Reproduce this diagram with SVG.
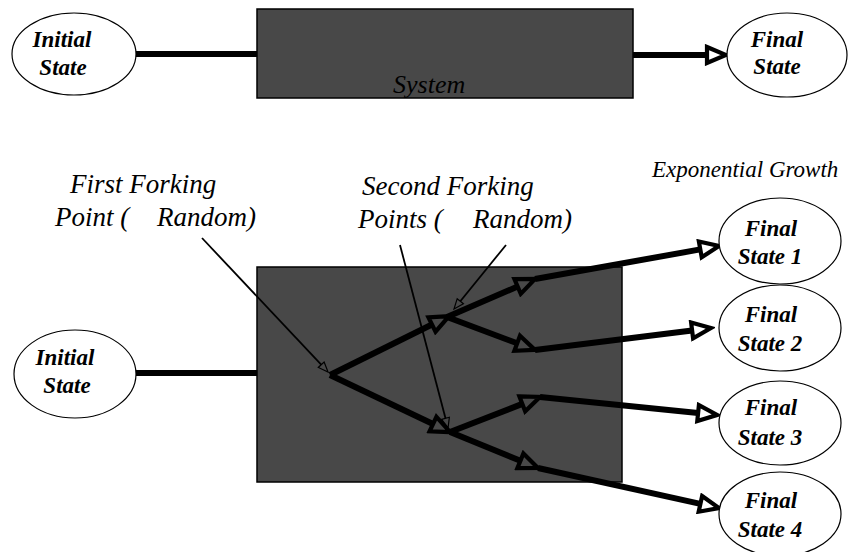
<svg xmlns="http://www.w3.org/2000/svg" width="848" height="552" viewBox="0 0 848 552">
  <defs>
    <!-- large open arrowhead, attached at its base -->
    <marker id="open-big" markerUnits="userSpaceOnUse" viewBox="0 0 26 22" markerWidth="26" markerHeight="22" refX="3" refY="11" orient="auto">
      <path d="M3,3 L22,11 L3,19 Z" fill="none" stroke="#000000" stroke-width="4.2" stroke-linejoin="miter"/>
    </marker>
    <!-- small open arrowhead for the callout lines -->
    <marker id="open-small" markerUnits="userSpaceOnUse" viewBox="0 0 14 12" markerWidth="14" markerHeight="12" refX="2" refY="6" orient="auto">
      <path d="M2,2 L12,6 L2,10 Z" fill="none" stroke="#000000" stroke-width="1.2"/>
    </marker>
  </defs>

  <rect x="0" y="0" width="848" height="552" fill="#ffffff"/>

  <!-- Process boxes -->
  <g fill="#484848" stroke="#000000" stroke-width="1.5">
    <rect id="system-box" x="257" y="9" width="376" height="89"/>
    <rect id="forking-box" x="257" y="267" width="365" height="215"/>
  </g>

  <!-- Connectors -->
  <g id="connectors" fill="none" stroke="#000000">
    <g stroke-width="6">
      <line x1="136" y1="54" x2="257" y2="54"/>
      <line x1="633" y1="55" x2="707" y2="55" marker-end="url(#open-big)"/>
      <line x1="136" y1="373" x2="257" y2="373"/>
      <line x1="330" y1="375" x2="432" y2="324.5" marker-end="url(#open-big)"/>
      <line x1="330" y1="375" x2="433" y2="424" marker-end="url(#open-big)"/>
      <line x1="447" y1="317" x2="517.6" y2="286.5" marker-end="url(#open-big)"/>
      <line x1="447" y1="317" x2="517.2" y2="343.3" marker-end="url(#open-big)"/>
      <line x1="450" y1="432" x2="522.3" y2="403.9" marker-end="url(#open-big)"/>
      <line x1="450" y1="432" x2="520.4" y2="460.8" marker-end="url(#open-big)"/>
      <line x1="535" y1="279" x2="700.3" y2="249.4" marker-end="url(#open-big)"/>
      <line x1="535" y1="350" x2="692.1" y2="330.4" marker-end="url(#open-big)"/>
      <line x1="540" y1="397" x2="698.1" y2="413.1" marker-end="url(#open-big)"/>
      <line x1="538" y1="468" x2="700.4" y2="503.9" marker-end="url(#open-big)"/>
    </g>
    <g stroke-width="1.8">
      <line x1="202" y1="238" x2="321.2" y2="364.7" marker-end="url(#open-small)"/>
      <line x1="400" y1="245" x2="445.5" y2="418.3" marker-end="url(#open-small)"/>
      <line x1="506" y1="245" x2="460.3" y2="301.2" marker-end="url(#open-small)"/>
    </g>
  </g>

  <!-- States -->
  <g id="initial-state-top">
    <ellipse cx="74" cy="54" rx="62" ry="41" fill="#ffffff" stroke="#000000" stroke-width="1.2"/>
    <text x="62" y="47" font-family="Liberation Serif" font-size="23" font-weight="bold" font-style="italic" text-anchor="middle">Initial</text>
    <text x="63" y="75" font-family="Liberation Serif" font-size="23" font-weight="bold" font-style="italic" text-anchor="middle">State</text>
  </g>
  <g id="final-state-top">
    <ellipse cx="787" cy="55" rx="60" ry="42" fill="#ffffff" stroke="#000000" stroke-width="1.2"/>
    <text x="777" y="47" font-family="Liberation Serif" font-size="23" font-weight="bold" font-style="italic" text-anchor="middle">Final</text>
    <text x="777" y="74" font-family="Liberation Serif" font-size="23" font-weight="bold" font-style="italic" text-anchor="middle">State</text>
  </g>
  <g id="initial-state-bottom">
    <ellipse cx="75" cy="374" rx="61" ry="44" fill="#ffffff" stroke="#000000" stroke-width="1.2"/>
    <text x="65" y="365" font-family="Liberation Serif" font-size="23" font-weight="bold" font-style="italic" text-anchor="middle">Initial</text>
    <text x="67" y="393" font-family="Liberation Serif" font-size="23" font-weight="bold" font-style="italic" text-anchor="middle">State</text>
  </g>
  <g id="final-state-1">
    <ellipse cx="780" cy="241" rx="61" ry="43" fill="#ffffff" stroke="#000000" stroke-width="1.2"/>
    <text x="771" y="236" font-family="Liberation Serif" font-size="23" font-weight="bold" font-style="italic" text-anchor="middle">Final</text>
    <text x="770" y="264" font-family="Liberation Serif" font-size="23" font-weight="bold" font-style="italic" text-anchor="middle">State 1</text>
  </g>
  <g id="final-state-2">
    <ellipse cx="780" cy="328" rx="61" ry="43" fill="#ffffff" stroke="#000000" stroke-width="1.2"/>
    <text x="771" y="322" font-family="Liberation Serif" font-size="23" font-weight="bold" font-style="italic" text-anchor="middle">Final</text>
    <text x="770" y="351" font-family="Liberation Serif" font-size="23" font-weight="bold" font-style="italic" text-anchor="middle">State 2</text>
  </g>
  <g id="final-state-3">
    <ellipse cx="780" cy="423" rx="61" ry="42" fill="#ffffff" stroke="#000000" stroke-width="1.2"/>
    <text x="771" y="415" font-family="Liberation Serif" font-size="23" font-weight="bold" font-style="italic" text-anchor="middle">Final</text>
    <text x="770" y="445" font-family="Liberation Serif" font-size="23" font-weight="bold" font-style="italic" text-anchor="middle">State 3</text>
  </g>
  <g id="final-state-4">
    <ellipse cx="780" cy="514" rx="61" ry="42" fill="#ffffff" stroke="#000000" stroke-width="1.2"/>
    <text x="771" y="508" font-family="Liberation Serif" font-size="23" font-weight="bold" font-style="italic" text-anchor="middle">Final</text>
    <text x="770" y="537" font-family="Liberation Serif" font-size="23" font-weight="bold" font-style="italic" text-anchor="middle">State 4</text>
  </g>

  <!-- Labels -->
  <text id="system-label" x="393" y="93" font-family="Liberation Serif" font-style="italic" font-size="26">System</text>
  <g id="label-first-fork">
    <text x="70" y="193" font-family="Liberation Serif" font-style="italic" font-size="27">First Forking</text>
    <text x="55" y="226" font-family="Liberation Serif" font-style="italic" font-size="27">Point (</text>
    <text x="157" y="226" font-family="Liberation Serif" font-style="italic" font-size="27">Random)</text>
  </g>
  <g id="label-second-fork">
    <text x="362" y="195" font-family="Liberation Serif" font-style="italic" font-size="27">Second Forking</text>
    <text x="358" y="228" font-family="Liberation Serif" font-style="italic" font-size="27">Points (</text>
    <text x="473" y="228" font-family="Liberation Serif" font-style="italic" font-size="27">Random)</text>
  </g>
  <text id="label-growth" x="652" y="177" font-family="Liberation Serif" font-style="italic" font-size="23">Exponential Growth</text>
</svg>
